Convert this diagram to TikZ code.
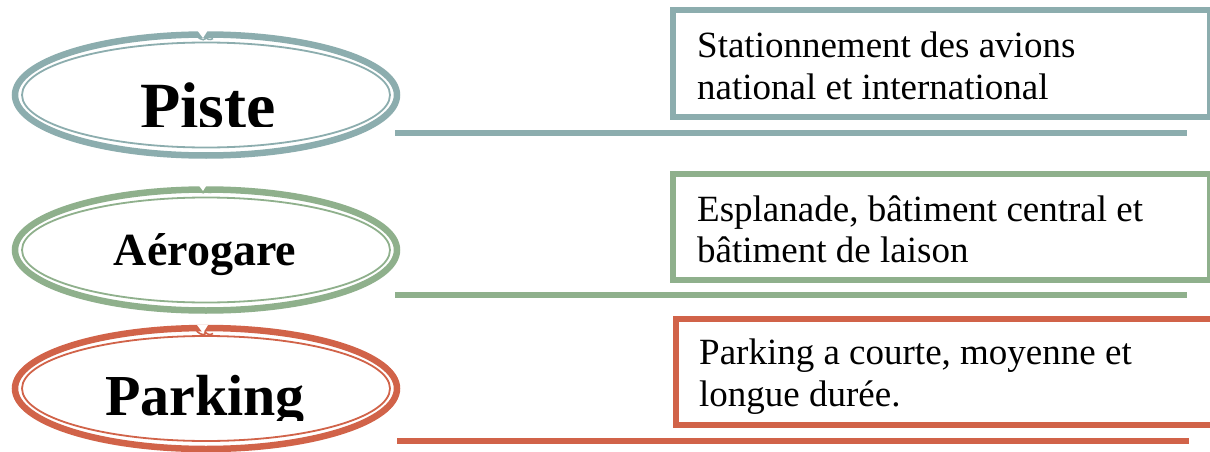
\documentclass[tikz,border=0pt]{standalone}
\usepackage{fontspec}
\setmainfont{Liberation Serif}
\usetikzlibrary{shapes.geometric}
\definecolor{cteal}{HTML}{8CADAE}
\definecolor{cgreen}{HTML}{8FB08C}
\definecolor{cred}{HTML}{D16349}
\tikzset{
  outerring/.style={ellipse, draw=#1, line width=6.5pt, minimum width=382pt, minimum height=121pt, inner sep=0pt},
  innerring/.style={ellipse, draw=#1, line width=1.8pt, minimum width=368pt, minimum height=105pt, inner sep=0pt},
  infobox/.style={rectangle, draw=#1, line width=6pt, minimum width=537pt, minimum height=106pt, inner sep=0pt, fill=white},
  infotext/.style={anchor=base west, inner sep=0pt, font=\fontsize{37}{42}\selectfont},
  bigword/.style={anchor=base, inner sep=0pt, font=\bfseries\fontsize{#1}{#1}\selectfont},
  bar/.style={draw=#1, line width=6pt},
  notchcurl/.style={draw=#1, line width=1.6pt}
}
\newcommand{\ringnotch}[3]{% x, top y, color
  \fill[white] (#1-6,#2-4.5) -- (#1+5,#2-4.5) -- (#1,#2+3.5) -- cycle;
  \draw[notchcurl=#3] (#1-7,#2+0.5) .. controls (#1-2,#2+7) and (#1+4,#2+6) .. (#1+2,#2+2);
  \draw[notchcurl=#3] (#1+2,#2+2) .. controls (#1+4,#2+5) and (#1+7,#2+6) .. (#1+10,#2+4);
}
\begin{document}
\begin{tikzpicture}[x=1pt,y=-1pt]
\useasboundingbox (0,0) rectangle (1210,452);
\fill[white] (0,0) rectangle (1210,452);
\clip (0,0) rectangle (1210,452);

% ---------- Row 1 : Piste ----------
\node[outerring=cteal] (e1) at (206,95) {};
\node[innerring=cteal] (i1) at (206,95) {};
\ringnotch{203}{34.5}{cteal}
\begin{scope}
  \clip (0,0) rectangle (1210,126.5);
  \node[bigword=66] (t1) at (208,128.5) {Piste};
\end{scope}
\node[infobox=cteal] (b1) at (941.5,63.5) {};
\node[infotext] (l1a) at (697,58) {Stationnement des avions};
\node[infotext] (l1b) at (697,99.5) {national et international};
\coordinate (s1) at (395,133);
\coordinate (f1) at (1187,133);
\draw[bar=cteal] (s1) -- (f1);

% ---------- Row 2 : Aérogare ----------
\node[outerring=cgreen] (e2) at (206,250) {};
\node[innerring=cgreen] (i2) at (206,250) {};
\ringnotch{203}{187.5}{cgreen}
\node[bigword=46] (t2) at (205,265) {Aérogare};
\node[infobox=cgreen] (b2) at (941.5,226.5) {};
\node[infotext] (l2a) at (697,221) {Esplanade, bâtiment central et};
\node[infotext] (l2b) at (697,262.5) {bâtiment de laison};
\coordinate (s2) at (395,295);
\coordinate (f2) at (1187,295);
\draw[bar=cgreen] (s2) -- (f2);

% ---------- Row 3 : Parking ----------
\node[outerring=cred] (e3) at (206,388.5) {};
\node[innerring=cred] (i3) at (206,388.5) {};
\ringnotch{203}{329.5}{cred}
\begin{scope}
  \clip (0,0) rectangle (1210,420);
  \node[bigword=58] (t3) at (205,415) {Parking};
\end{scope}
\node[infobox=cred, minimum width=540pt] (b3) at (946,372) {};
\node[infotext] (l3a) at (699,364) {Parking a courte, moyenne et};
\node[infotext] (l3b) at (699,406) {longue durée.};
\coordinate (s3) at (397,441);
\coordinate (f3) at (1189,441);
\draw[bar=cred] (s3) -- (f3);
\end{tikzpicture}
\end{document}
